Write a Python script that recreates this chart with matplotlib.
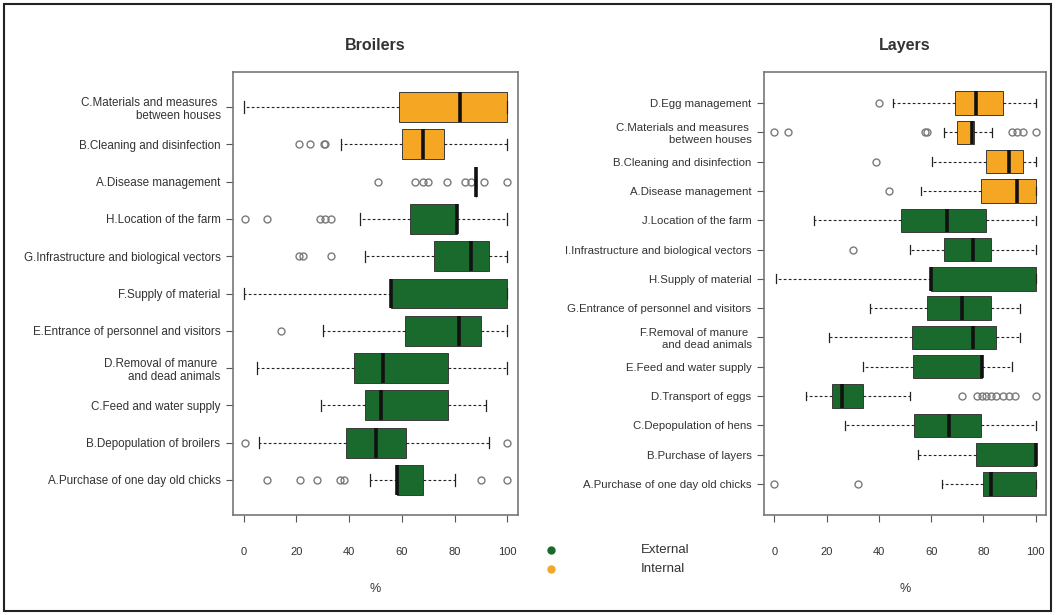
import matplotlib
matplotlib.use("Agg")
import matplotlib.pyplot as plt
from matplotlib.lines import Line2D
from matplotlib.patches import Rectangle

plt.rcParams['font.family'] = ['Liberation Sans', 'DejaVu Sans']

GREEN = "#1a6a2e"
ORANGE = "#f5a623"
TXT = "#333333"

# Broilers, listed top to bottom
br_labels = ["C.Materials and measures \nbetween houses", "B.Cleaning and disinfection",
             "A.Disease management", "H.Location of the farm",
             "G.Infrastructure and biological vectors", "F.Supply of material",
             "E.Entrance of personnel and visitors", "D.Removal of manure \nand dead animals",
             "C.Feed and water supply", "B.Depopulation of broilers",
             "A.Purchase of one day old chicks"]
br_type = ["I", "I", "I", "E", "E", "E", "E", "E", "E", "E", "E"]
br_lo = [0, 37, 88, 44, 46, 0, 30, 5, 29.5, 6, 48]
br_q1 = [59, 60, 88, 63, 72, 56, 61, 42, 46, 39, 58]
br_med = [82, 68, 88, 81, 86, 56, 81.5, 53, 52, 50, 58]
br_q3 = [100, 76, 88, 81, 93, 100, 90, 77.5, 77.5, 61.5, 68]
br_hi = [100, 100, 88, 100, 100, 100, 100, 100, 92, 93, 80]
br_out = [[], [21, 25, 30.5, 31], [51, 65, 68, 70, 77, 84, 86, 91, 100],
          [0.5, 9, 29, 31, 33], [21, 22.5, 33], [], [14], [], [], [0.5, 100],
          [9, 21.5, 28, 36.5, 38, 90, 100]]

# Layers, listed top to bottom
ly_labels = ["D.Egg management", "C.Materials and measures \nbetween houses",
             "B.Cleaning and disinfection", "A.Disease management",
             "J.Location of the farm", "I.Infrastructure and biological vectors",
             "H.Supply of material", "G.Entrance of personnel and visitors",
             "F.Removal of manure \nand dead animals", "E.Feed and water supply",
             "D.Transport of eggs", "C.Depopulation of hens",
             "B.Purchase of layers", "A.Purchase of one day old chicks"]
ly_type = ["I", "I", "I", "I", "E", "E", "E", "E", "E", "E", "E", "E", "E", "E"]
ly_lo = [45.5, 65, 60.5, 56, 15, 52, 0.5, 36.5, 21, 34, 12, 27, 55, 64]
ly_q1 = [69, 70, 81, 79, 48.5, 65, 60, 58.5, 52.5, 53, 22, 53.5, 77, 80]
ly_med = [77, 75.5, 90, 93, 66, 76, 60, 72, 76, 79.5, 26, 67, 100, 83]
ly_q3 = [87.5, 76.5, 95, 100, 81, 83, 100, 83, 85, 79.5, 34, 79, 100, 100]
ly_hi = [100, 83.5, 100, 100, 100, 100, 100, 94, 94, 91, 52, 100, 100, 100]
ly_out = [[40], [0, 5, 57.5, 58.5, 91, 93, 95, 100], [39], [44], [], [30], [], [],
          [], [], [72, 77.5, 79.5, 81, 83, 85, 87.5, 90, 92, 100], [], [], [0, 32]]


def panel(ax, title, labels, types, lo, q1, med, q3, hi, out, fs):
    n = len(labels)
    stats = []
    for i in range(n):
        stats.append(dict(whislo=lo[i], q1=q1[i], med=med[i], q3=q3[i],
                          whishi=hi[i], fliers=out[i]))
    pos = list(range(n, 0, -1))
    bp = ax.bxp(stats, positions=pos, vert=False, widths=0.8, patch_artist=True,
                capwidths=0.3,
                boxprops=dict(edgecolor="#3a3a3a", linewidth=0.7),
                medianprops=dict(color="#111111", linewidth=2.6, solid_capstyle="butt"),
                whiskerprops=dict(color="#222222", linewidth=0.8, linestyle=(0, (2.5, 2))),
                capprops=dict(color="#222222", linewidth=0.9),
                flierprops=dict(marker="o", markersize=5, markerfacecolor="none",
                                markeredgecolor="#7a7a7a", markeredgewidth=1.0))
    for b, t in zip(bp["boxes"], types):
        b.set_facecolor(GREEN if t == "E" else ORANGE)
    ax.set_xlim(-4, 104)
    ax.set_ylim(0.5 - 0.04 * n, n + 0.5 + 0.04 * n)
    ax.set_yticks(pos)
    ax.set_yticklabels(labels, fontsize=fs, color=TXT)
    ax.set_xticks([0, 20, 40, 60, 80, 100])
    ax.tick_params(axis="x", length=5, pad=18, labelsize=8, colors="#555555",
                   labelcolor=TXT)
    ax.tick_params(axis="y", length=5, pad=4, colors="#555555", labelcolor=TXT)
    for s in ax.spines.values():
        s.set_color("#777777")
        s.set_linewidth(1.2)
    ax.set_title(title, fontsize=11.5, fontweight="bold", color=TXT, pad=16)
    ax.set_xlabel("%", fontsize=9, color=TXT, labelpad=19)


fig = plt.figure(figsize=(10.56, 6.15), dpi=100)
ax1 = fig.add_axes([233 / 1056, 1 - 515 / 615, 285 / 1056, 443 / 615])
ax2 = fig.add_axes([764 / 1056, 1 - 515 / 615, 282 / 1056, 443 / 615])
panel(ax1, "Broilers", br_labels, br_type, br_lo, br_q1, br_med, br_q3, br_hi, br_out, 8.4)
panel(ax2, "Layers", ly_labels, ly_type, ly_lo, ly_q1, ly_med, ly_q3, ly_hi, ly_out, 8.2)

# legend
fig.add_artist(Line2D([551 / 1056], [1 - 550 / 615], marker="o", markersize=5,
                      color=GREEN, linestyle="none", transform=fig.transFigure))
fig.add_artist(Line2D([551 / 1056], [1 - 569 / 615], marker="o", markersize=5,
                      color=ORANGE, linestyle="none", transform=fig.transFigure))
fig.text(641 / 1056, 1 - 550 / 615, "External", fontsize=9.5, color=TXT, va="center")
fig.text(641 / 1056, 1 - 569 / 615, "Internal", fontsize=9.5, color=TXT, va="center")

# outer frame
fig.add_artist(Rectangle((0.004, 0.006), 0.991, 0.988, transform=fig.transFigure,
                         fill=False, edgecolor="#222222", linewidth=1.5))

fig.savefig("out.png", dpi=100)
